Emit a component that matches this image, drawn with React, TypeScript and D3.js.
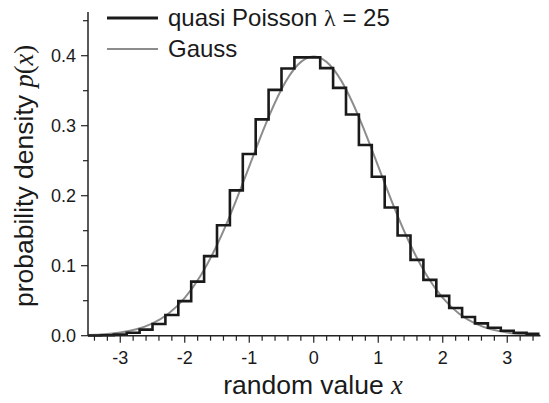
import React from "react";
import * as d3 from "d3";

// Poisson (lambda = 25) bin centres (k-25)/5 and scaled densities 5*P(k)
const poissonX = [
  -3.4, -3.2, -3.0, -2.8, -2.6, -2.4, -2.2, -2.0, -1.8, -1.6, -1.4, -1.2, -1.0, -0.8, -0.6, -0.4, -0.2,
  0.0, 0.2, 0.4, 0.6, 0.8, 1.0, 1.2, 1.4, 1.6, 1.8, 2.0, 2.2, 2.4, 2.6, 2.8, 3.0, 3.2, 3.4,
];
const poissonP = [
  0.00026, 0.00073, 0.00182, 0.00415, 0.00864, 0.01662, 0.02967, 0.04945, 0.07727, 0.11363, 0.15782,
  0.20766, 0.25958, 0.30902, 0.35116, 0.38169, 0.3976, 0.3976, 0.38231, 0.35399, 0.31606, 0.27247,
  0.22706, 0.18311, 0.14306, 0.10838, 0.07969, 0.05692, 0.03953, 0.02671, 0.01757, 0.01126, 0.00704,
  0.00429, 0.00256,
];
const gaussX = [
  -3.5, -3.25, -3.0, -2.75, -2.5, -2.25, -2.0, -1.75, -1.5, -1.25, -1.0, -0.75, -0.5, -0.25, 0.0,
  0.25, 0.5, 0.75, 1.0, 1.25, 1.5, 1.75, 2.0, 2.25, 2.5, 2.75, 3.0, 3.25, 3.5,
];
const gaussP = [
  0.000873, 0.002029, 0.004432, 0.009094, 0.017528, 0.03174, 0.053991, 0.086277, 0.129518, 0.182649,
  0.241971, 0.301137, 0.352065, 0.386668, 0.398942, 0.386668, 0.352065, 0.301137, 0.241971, 0.182649,
  0.129518, 0.086277, 0.053991, 0.03174, 0.017528, 0.009094, 0.004432, 0.002029, 0.000873,
];
const xTickLabels = [-3, -2, -1, 0, 1, 2, 3];
const yTickLabels = [0.0, 0.1, 0.2, 0.3, 0.4];
const binWidth = 0.2;

export default function App() {
  const W = 549, H = 403;
  const left = 88, right = 539.5, top = 12, bottom = 335.7;
  const x = d3.scaleLinear().domain([-3.5, 3.5]).range([left, right]);
  const y = d3.scaleLinear().domain([0, 0.4]).range([bottom, 55.7]);
  const yTopVal = y.invert(top);

  const stepPts: [number, number][] = [];
  poissonX.forEach((c, i) => {
    stepPts.push([c - binWidth / 2, poissonP[i]]);
    stepPts.push([c + binWidth / 2, poissonP[i]]);
  });
  const stepLine = d3
    .line<[number, number]>()
    .x((d) => x(d[0]))
    .y((d) => y(d[1]));
  const stepD = stepLine(stepPts) || "";

  const gaussLine = d3
    .line<number>()
    .x((d) => x(d))
    .y((_, i) => y(gaussP[i]))
    .curve(d3.curveNatural);
  const gaussD = gaussLine(gaussX) || "";

  const xMinor = d3.range(-34, 35, 2).map((v) => v / 10);
  const yMinor = d3.range(0, Math.floor(yTopVal * 100) + 1, 5).map((v) => v / 100);

  const font = "'Liberation Sans', Arial, sans-serif";
  const serif = "'Liberation Serif', 'Times New Roman', serif";

  return (
    <svg width={W} height={H} style={{ position: "absolute", left: 0, top: 0 }}>
      <rect width={W} height={H} fill="#fff" />
      <path d={gaussD} fill="none" stroke="#8c8c8c" strokeWidth={2} />
      <path d={stepD} fill="none" stroke="#1a1a1a" strokeWidth={2.6} strokeLinejoin="miter" />
      <line x1={left} x2={left} y1={top} y2={bottom} stroke="#222" strokeWidth={1.5} />
      <line x1={left} x2={right + 1} y1={bottom} y2={bottom} stroke="#222" strokeWidth={1.5} />
      {xMinor.map((v) => {
        const major = Math.abs(v - Math.round(v)) < 1e-6;
        return (
          <line key={"xm" + v} x1={x(v)} x2={x(v)} y1={bottom} y2={bottom + (major ? 7 : 5)} stroke="#222" strokeWidth={1.2} />
        );
      })}
      {xTickLabels.map((v) => (
        <text key={"xl" + v} x={x(v)} y={364} textAnchor="middle" fontFamily={font} fontSize={18} fill="#1a1a1a">
          {v}
        </text>
      ))}
      {yMinor.map((v) => {
        const major = Math.abs(v * 10 - Math.round(v * 10)) < 1e-6;
        return (
          <line key={"ym" + v} x1={left - (major ? 7 : 5)} x2={left} y1={y(v)} y2={y(v)} stroke="#222" strokeWidth={1.2} />
        );
      })}
      {yTickLabels.map((v) => (
        <text key={"yl" + v} x={76} y={y(v) + 6.5} textAnchor="end" fontFamily={font} fontSize={18} fill="#1a1a1a">
          {v.toFixed(1)}
        </text>
      ))}
      <text x={313} y={394} textAnchor="middle" fontFamily={font} fontSize={26.5} fill="#1a1a1a">
        random value <tspan fontFamily={serif} fontStyle="italic">x</tspan>
      </text>
      <text
        transform={`translate(33,176) rotate(-90)`}
        textAnchor="middle"
        fontFamily={font}
        fontSize={26.5}
        fill="#1a1a1a"
      >
        probability density <tspan fontFamily={serif} fontStyle="italic">p</tspan>
        <tspan fontFamily={serif}>(</tspan>
        <tspan fontFamily={serif} fontStyle="italic">x</tspan>
        <tspan fontFamily={serif}>)</tspan>
      </text>
      <line x1={107} x2={158} y1={18} y2={18} stroke="#1a1a1a" strokeWidth={3} />
      <text x={168} y={26} fontFamily={font} fontSize={24} fill="#1a1a1a">
        quasi Poisson <tspan fontFamily={serif}>λ</tspan> = 25
      </text>
      <line x1={107} x2={158} y1={49} y2={49} stroke="#8c8c8c" strokeWidth={2} />
      <text x={168} y={57} fontFamily={font} fontSize={24} fill="#1a1a1a">
        Gauss
      </text>
    </svg>
  );
}
